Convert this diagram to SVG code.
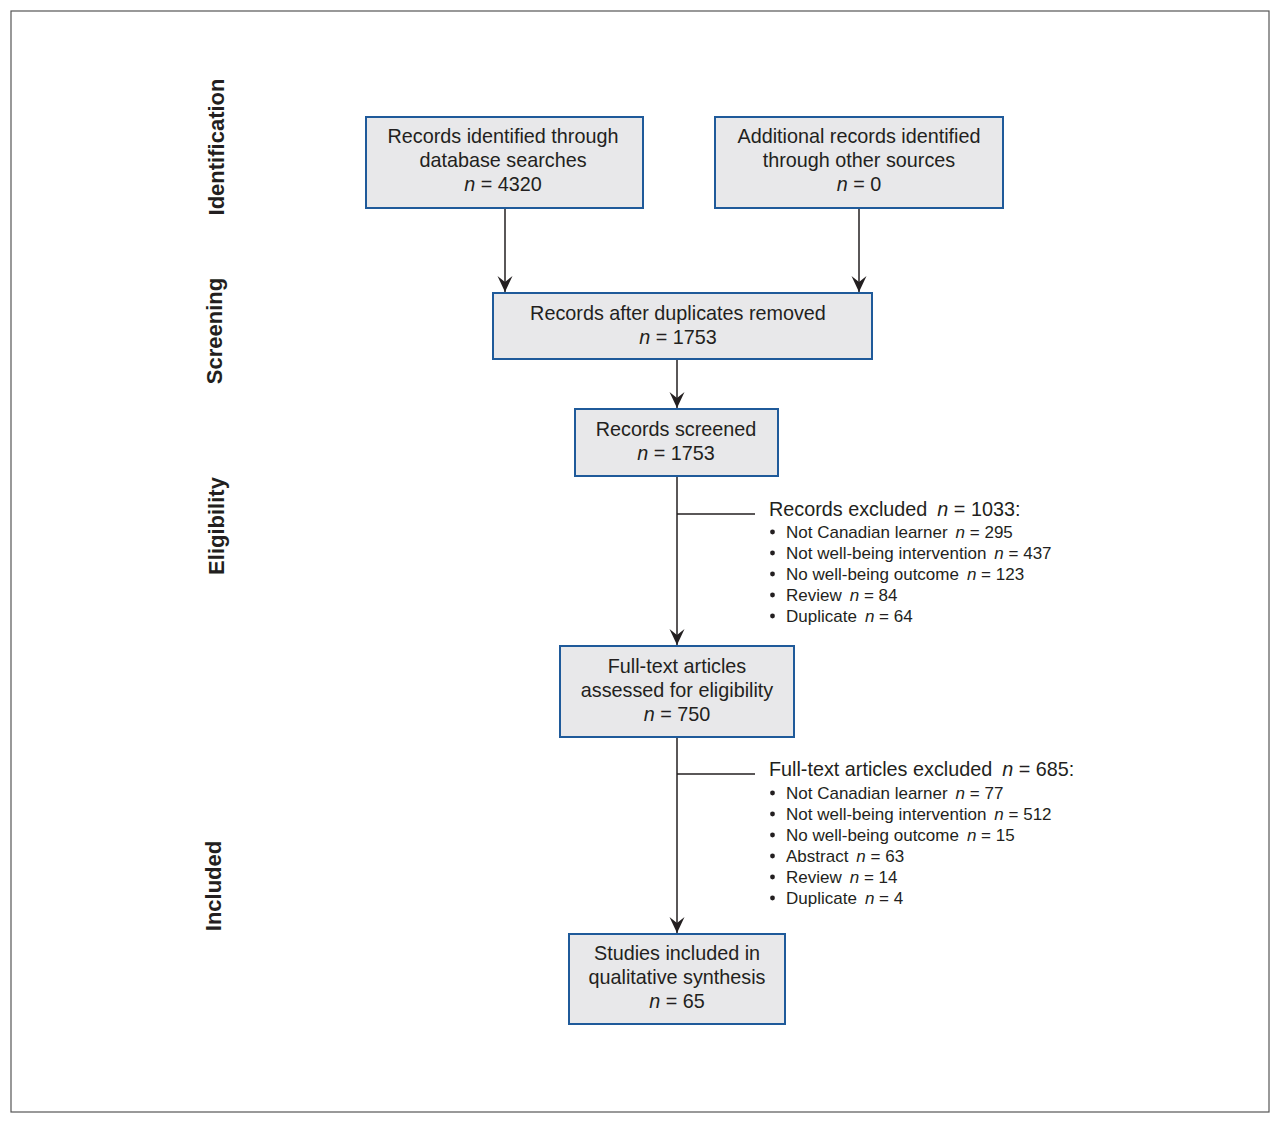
<svg xmlns="http://www.w3.org/2000/svg" width="1280" height="1124" viewBox="0 0 1280 1124">
<defs>
<style>
.box{fill:#e8e8ea;stroke:#1f5a9a;stroke-width:2}
.t{font-family:"Liberation Sans",Arial,sans-serif;font-size:19.8px;fill:#231f20;text-anchor:middle}
.l{font-family:"Liberation Sans",Arial,sans-serif;fill:#231f20}
.h{font-size:19.8px}
.i{font-size:17px}
.b{fill:#231f20}
.side{font-family:"Liberation Sans",Arial,sans-serif;font-size:22px;font-weight:bold;fill:#231f20;text-anchor:middle}
.c{stroke:#231f20;stroke-width:1.5;fill:none}
</style>
<marker id="ah" markerUnits="userSpaceOnUse" markerWidth="18" markerHeight="16" viewBox="0 0 18 16" refX="17" refY="8" orient="auto">
<path d="M1,0.5 L17,8 L1,15.5 L7,8 Z" fill="#231f20"/>
</marker>
</defs>
<rect x="11" y="11" width="1258" height="1101" fill="#fff" stroke="#555" stroke-width="1.2"/>
<g id="labels">
<text class="side" transform="translate(224,147) rotate(-90)">Identification</text>
<text class="side" transform="translate(222,331) rotate(-90)">Screening</text>
<text class="side" transform="translate(224,526) rotate(-90)">Eligibility</text>
<text class="side" transform="translate(221,886) rotate(-90)">Included</text>
</g>
<g id="connectors">
<line class="c" x1="505" y1="208" x2="505" y2="292" marker-end="url(#ah)"/>
<line class="c" x1="859" y1="208" x2="859" y2="292" marker-end="url(#ah)"/>
<line class="c" x1="677" y1="359" x2="677" y2="408" marker-end="url(#ah)"/>
<line class="c" x1="677" y1="476" x2="677" y2="645" marker-end="url(#ah)"/>
<line class="c" x1="677" y1="737" x2="677" y2="933" marker-end="url(#ah)"/>
<line class="c" x1="677" y1="514" x2="755" y2="514"/>
<line class="c" x1="677" y1="774" x2="755" y2="774"/>
</g>
<g id="n1">
<rect class="box" x="366" y="117" width="277" height="91"/>
<text class="t" x="503" y="143">Records identified through</text>
<text class="t" x="503" y="167">database searches</text>
<text class="t" x="503" y="191"><tspan font-style="italic">n</tspan> = 4320</text>
</g>
<g id="n2">
<rect class="box" x="715" y="117" width="288" height="91"/>
<text class="t" x="859" y="143">Additional records identified</text>
<text class="t" x="859" y="167">through other sources</text>
<text class="t" x="859" y="191"><tspan font-style="italic">n</tspan> = 0</text>
</g>
<g id="n3">
<rect class="box" x="493" y="293" width="379" height="66"/>
<text class="t" x="678" y="320">Records after duplicates removed</text>
<text class="t" x="678" y="344"><tspan font-style="italic">n</tspan> = 1753</text>
</g>
<g id="n4">
<rect class="box" x="575" y="409" width="203" height="67"/>
<text class="t" x="676" y="436">Records screened</text>
<text class="t" x="676" y="460"><tspan font-style="italic">n</tspan> = 1753</text>
</g>
<g id="x1">
<text class="l h" x="769" y="516">Records excluded<tspan dx="10" font-style="italic">n</tspan> = 1033:</text>
<circle class="b" cx="772.5" cy="532" r="2.4"/><circle class="b" cx="772.5" cy="553" r="2.4"/><circle class="b" cx="772.5" cy="574" r="2.4"/><circle class="b" cx="772.5" cy="595" r="2.4"/><circle class="b" cx="772.5" cy="616" r="2.4"/>
<g class="l i">
<text x="786" y="538">Not Canadian learner<tspan dx="8" font-style="italic">n</tspan> = 295</text>
<text x="786" y="559">Not well-being intervention<tspan dx="8" font-style="italic">n</tspan> = 437</text>
<text x="786" y="580">No well-being outcome<tspan dx="8" font-style="italic">n</tspan> = 123</text>
<text x="786" y="601">Review<tspan dx="8" font-style="italic">n</tspan> = 84</text>
<text x="786" y="622">Duplicate<tspan dx="8" font-style="italic">n</tspan> = 64</text>
</g>
</g>
<g id="n5">
<rect class="box" x="560" y="646" width="234" height="91"/>
<text class="t" x="677" y="673">Full-text articles</text>
<text class="t" x="677" y="697">assessed for eligibility</text>
<text class="t" x="677" y="721"><tspan font-style="italic">n</tspan> = 750</text>
</g>
<g id="x2">
<text class="l h" x="769" y="776">Full-text articles excluded<tspan dx="10" font-style="italic">n</tspan> = 685:</text>
<circle class="b" cx="772.5" cy="793" r="2.4"/><circle class="b" cx="772.5" cy="814" r="2.4"/><circle class="b" cx="772.5" cy="835" r="2.4"/><circle class="b" cx="772.5" cy="856" r="2.4"/><circle class="b" cx="772.5" cy="877" r="2.4"/><circle class="b" cx="772.5" cy="898" r="2.4"/>
<g class="l i">
<text x="786" y="799">Not Canadian learner<tspan dx="8" font-style="italic">n</tspan> = 77</text>
<text x="786" y="820">Not well-being intervention<tspan dx="8" font-style="italic">n</tspan> = 512</text>
<text x="786" y="841">No well-being outcome<tspan dx="8" font-style="italic">n</tspan> = 15</text>
<text x="786" y="862">Abstract<tspan dx="8" font-style="italic">n</tspan> = 63</text>
<text x="786" y="883">Review<tspan dx="8" font-style="italic">n</tspan> = 14</text>
<text x="786" y="904">Duplicate<tspan dx="8" font-style="italic">n</tspan> = 4</text>
</g>
</g>
<g id="n6">
<rect class="box" x="569" y="934" width="216" height="90"/>
<text class="t" x="677" y="960">Studies included in</text>
<text class="t" x="677" y="984">qualitative synthesis</text>
<text class="t" x="677" y="1008"><tspan font-style="italic">n</tspan> = 65</text>
</g>
</svg>
